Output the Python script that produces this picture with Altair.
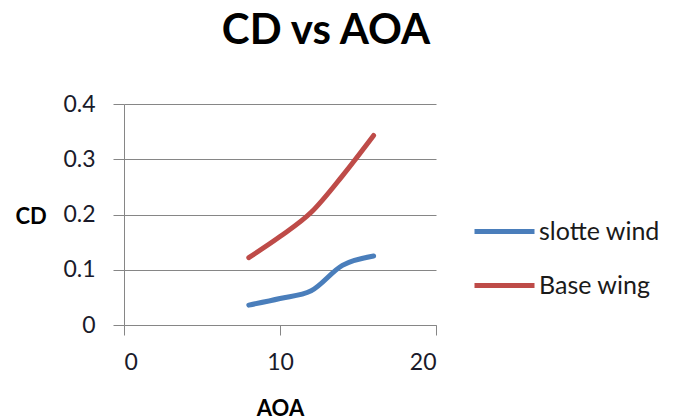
import altair as alt
import pandas as pd

# Drag coefficient against angle of attack for two wing configurations
aoa = [8, 10, 12, 14, 16]
cd_slotted = [0.036, 0.048, 0.062, 0.108, 0.125]
cd_base = [0.122, 0.160, 0.204, 0.270, 0.343]
series = ["slotte wind", "Base wing"]
colors = ["#4A7EBB", "#BE4B48"]

rows = []
for name, vals in zip(series, [cd_slotted, cd_base]):
    for a, v in zip(aoa, vals):
        rows.append({"AOA": a, "CD": v, "series": name})
df = pd.DataFrame(rows)

FONT = "Lato"

chart = (
    alt.Chart(df)
    .mark_line(interpolate="monotone", strokeWidth=5, strokeCap="round")
    .encode(
        x=alt.X(
            "AOA:Q",
            scale=alt.Scale(domain=[0, 20], nice=False),
            axis=alt.Axis(
                values=[0, 10, 20],
                title="AOA",
                grid=False,
                tickSize=10,
                labelPadding=16,
                titleY=90,
                titleBaseline="alphabetic",
            ),
        ),
        y=alt.Y(
            "CD:Q",
            scale=alt.Scale(domain=[0, 0.4], nice=False),
            axis=alt.Axis(
                values=[0, 0.1, 0.2, 0.3, 0.4],
                format="~g",
                title="CD",
                titleAngle=0,
                titleAlign="left",
                titleBaseline="alphabetic",
                titleX=-109,
                titleY=119,
                tickSize=11,
                labelPadding=18,
            ),
        ),
        color=alt.Color(
            "series:N",
            scale=alt.Scale(domain=series, range=colors),
            legend=alt.Legend(
                title=None,
                orient="none",
                legendX=348,
                legendY=95,
                symbolType="stroke",
                symbolSize=3600,
                symbolStrokeWidth=5,
                labelFontSize=25,
                labelFont=FONT,
                labelColor="#1a1a1a",
                labelOffset=2,
                rowPadding=8,
            ),
        ),
    )
    .properties(
        width=312,
        height=221,
        autosize=alt.AutoSizeParams(type="none"),
        padding={"left": 124, "top": 104, "right": 253, "bottom": 94},
        title=alt.Title(
            "CD vs AOA",
            font=FONT,
            fontSize=42,
            fontWeight="bold",
            color="#000000",
            anchor="middle",
            dx=46,
            offset=40,
        ),
    )
    .configure_view(stroke=None)
    .configure_axis(
        domainColor="#868686",
        tickColor="#868686",
        gridColor="#868686",
        domainWidth=1,
        labelFont=FONT,
        labelFontSize=23,
        labelColor="#1a1a2a",
        titleFont=FONT,
        titleFontSize=22,
        titleFontWeight="bold",
        titleColor="#000000",
    )
    .configure_axisY(domain=True, grid=True)
)

chart.save("out.html", embed_options={"renderer": "svg", "actions": False})
